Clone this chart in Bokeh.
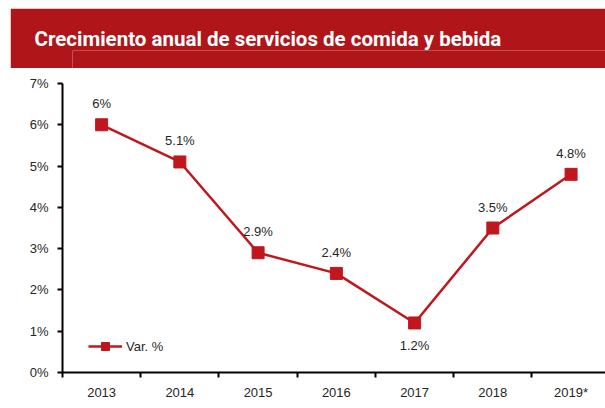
from bokeh.plotting import figure
from bokeh.models import (ColumnDataSource, Range1d, FixedTicker, LabelSet, Legend,
                          LegendItem, Title)
from bokeh.layouts import column
from bokeh.embed import file_html
from bokeh.resources import INLINE
from bokeh.core.properties import value

# ---- data ----
years = ["2013", "2014", "2015", "2016", "2017", "2018", "2019*"]
growth = [6.0, 5.1, 2.9, 2.4, 1.2, 3.5, 4.8]
growth_labels = ["6%", "5.1%", "2.9%", "2.4%", "1.2%", "3.5%", "4.8%"]
y_ticks = [0, 1, 2, 3, 4, 5, 6, 7]
y_tick_labels = ["0%", "1%", "2%", "3%", "4%", "5%", "6%", "7%"]
title_text = "Crecimiento anual de servicios de comida y bebida"
legend_text = "Var. %"

RED = "#B0151A"
LINE_RED = "#C0171E"
TXT = "#262626"
FONT = "Liberation Sans"

W = 605
LEFT = 62

# ---- title bar: its own small figure, all red, text as the figure title ----
t = figure(width=W - 10, height=60, x_range=Range1d(0, 1), y_range=Range1d(0, 1),
           toolbar_location=None, output_backend="svg",
           min_border_left=LEFT - 10, min_border_right=0, min_border_top=42, min_border_bottom=0,
           x_axis_location=None, y_axis_location=None)
t.margin = (8, 0, 0, 10)
t.grid.visible = False
t.outline_line_color = None
t.background_fill_color = RED
t.border_fill_color = RED
t.title = Title(text=title_text, align="left", offset=-38, standoff=0,
                text_color="white", text_font="Roboto", text_font_style="bold",
                text_font_size="20.5px", vertical_align="bottom")

# ---- main chart ----
xs = list(range(len(years)))
label_offsets = [21 if i != 4 else -23 for i in range(len(years))]
src = ColumnDataSource(dict(x=xs, y=growth, lab=growth_labels, off=label_offsets))

p = figure(width=W, height=338, x_range=Range1d(-0.5, 6.44), y_range=Range1d(0, 7),
           toolbar_location=None, output_backend="svg",
           min_border_left=LEFT, min_border_right=0, min_border_top=15, min_border_bottom=34)
p.outline_line_color = None
p.grid.visible = False

r_line = p.line("x", "y", source=src, line_color=LINE_RED, line_width=2.5)
r_pts = p.scatter("x", "y", source=src, marker="square", size=12,
                  fill_color=LINE_RED, line_color=LINE_RED)

p.add_layout(LabelSet(x="x", y="y", text="lab", y_offset="off", source=src,
                      text_align="center", text_baseline="middle",
                      text_font=value(FONT), text_font_size="13px", text_color=TXT))

# x axis
p.xaxis.ticker = FixedTicker(ticks=xs, minor_ticks=[i - 0.5 for i in range(len(years) + 1)])
p.xaxis.major_label_overrides = {i: y for i, y in enumerate(years)}
p.xaxis.major_tick_line_color = None
p.xaxis.minor_tick_line_color = "black"
p.xaxis.minor_tick_line_width = 2
p.xaxis.minor_tick_in = 0
p.xaxis.minor_tick_out = 5
p.xaxis.major_label_standoff = 6
p.xaxis.axis_line_width = 2
p.xaxis.axis_line_color = "black"

# y axis
p.yaxis.ticker = FixedTicker(ticks=y_ticks)
p.yaxis.major_label_overrides = {v: s for v, s in zip(y_ticks, y_tick_labels)}
p.yaxis.minor_tick_line_color = None
p.yaxis.major_tick_in = 0
p.yaxis.major_tick_out = 5
p.yaxis.major_tick_line_width = 2
p.yaxis.major_tick_line_color = "black"
p.yaxis.major_label_standoff = 9
p.yaxis.axis_line_width = 2
p.yaxis.axis_line_color = "black"

for ax in (p.xaxis, p.yaxis):
    ax.major_label_text_font = FONT
    ax.major_label_text_font_size = "13px"
    ax.major_label_text_color = TXT

legend = Legend(items=[LegendItem(label=legend_text, renderers=[r_line, r_pts])],
                location=(26, 16), padding=0, margin=0, glyph_width=34, glyph_height=20,
                label_standoff=4, border_line_color=None, background_fill_alpha=0,
                label_text_font=FONT, label_text_font_size="13px", label_text_color=TXT)
p.add_layout(legend)

layout = column(t, p, spacing=0)
open("out.html", "w").write(file_html(layout, INLINE))
